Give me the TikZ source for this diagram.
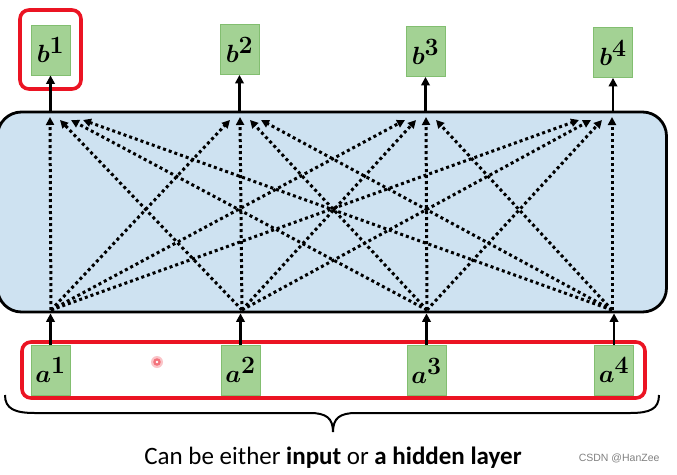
\documentclass[tikz,border=0pt]{standalone}
\usepackage{amsmath}
\usepackage{fontspec}
\setmainfont{Carlito}
\newfontfamily\wmfont{Liberation Sans}
\usetikzlibrary{arrows.meta,calc}
\definecolor{boxgreen}{RGB}{163,210,148}
\definecolor{boxgreenedge}{RGB}{130,190,112}
\definecolor{layerblue}{RGB}{206,226,241}
\definecolor{hlred}{RGB}{235,20,35}
\tikzset{
  unitbox/.style={draw=boxgreenedge, fill=boxgreen, line width=0.8pt, minimum width=39pt, minimum height=50pt, inner sep=0pt, font=\fontsize{34}{34}\selectfont\boldmath},
  solidarrow/.style={line width=2.8pt, -{Triangle[length=8.5pt,width=8.5pt]}},
  dotarrow/.style={line width=3pt, dash pattern=on 3pt off 3pt, -{Triangle[length=8pt,width=8pt]}},
  redframe/.style={draw=hlred, line width=3.6pt, rounded corners=9pt},
}
\begin{document}
\begin{tikzpicture}[x=1pt,y=-1pt]
\useasboundingbox (0,0) rectangle (677,474);
% big layer box
\node[draw=black, fill=layerblue, line width=2.8pt, rounded corners=24pt, minimum width=669pt, minimum height=200pt, inner sep=0pt] (layer) at (332,212) {};
% output nodes
\node[unitbox] (b1) at (50.5,50) {$b^{1}$};
\node[unitbox] (b2) at (239.5,49.5) {$b^{2}$};
\node[unitbox] (b3) at (425.5,51.5) {$b^{3}$};
\node[unitbox] (b4) at (613,52.5) {$b^{4}$};
% input nodes
\node[unitbox] (a1) at (50.5,370) {$a^{1}$};
\node[unitbox] (a2) at (240.5,370) {$a^{2}$};
\node[unitbox] (a3) at (426.5,370.5) {$a^{3}$};
\node[unitbox] (a4) at (614,370) {$a^{4}$};
% red highlight frames
\draw[redframe] (20,10) rectangle (81,89);
\draw[redframe] (22,342) rectangle (645,398);
% solid arrows
\foreach \i in {1,2,3,4}{
  \draw[solidarrow] (a\i.north) -- (a\i.north |- layer.south);
  \draw[solidarrow] (b\i.south |- layer.north) -- (b\i.south);
}
% fan points
\coordinate (s1) at (51,310);
\coordinate (s2) at (242,310);
\coordinate (s3) at (427,310);
\coordinate (s4) at (612,310);
\coordinate (u1) at (50,117);
\coordinate (u2) at (240,117);
\coordinate (u3) at (426,117);
\coordinate (u4) at (612,117);
% dotted connections
\foreach \i in {1,2,3,4}{
  \foreach \j in {1,2,3,4}{
    \pgfmathtruncatemacro{\d}{abs(\i-\j)}
    \pgfmathsetmacro{\off}{\d==0 ? 0 : (\d==1 ? 10 : (\d==2 ? 21 : 33))}
    \pgfmathsetmacro{\sg}{\i<\j ? -1 : 1}
    \pgfmathsetmacro{\dy}{\d==0 ? 0 : 3}
    \coordinate (t\i\j) at ($(u\j)+(\sg*\off,\dy)$);
    \draw[dotarrow] (s\i) -- (t\i\j);
  }
}
% laser dot
\fill[hlred!25] (157,362) circle (6pt);
\fill[hlred!60] (157,362) circle (3.8pt);
\fill[white] (157,362) circle (1.4pt);
% brace
\draw[line width=2pt] (5,395) .. controls (5,409) and (15,413) .. (35,413) -- (310,413) .. controls (326,413) and (333,418) .. (333,432)
  (333,432) .. controls (333,418) and (340,413) .. (356,413) -- (630,413) .. controls (650,413) and (659,409) .. (659,395);
\node[font=\fontsize{25}{25}\selectfont, anchor=base] (caption) at (333,464) {Can be either \textbf{input} or \textbf{a hidden layer}};
\node[font=\wmfont\fontsize{10.5}{10.5}\selectfont, text=black!50, anchor=base east] (wm) at (663,461) {CSDN @HanZee};
\end{tikzpicture}
\end{document}
